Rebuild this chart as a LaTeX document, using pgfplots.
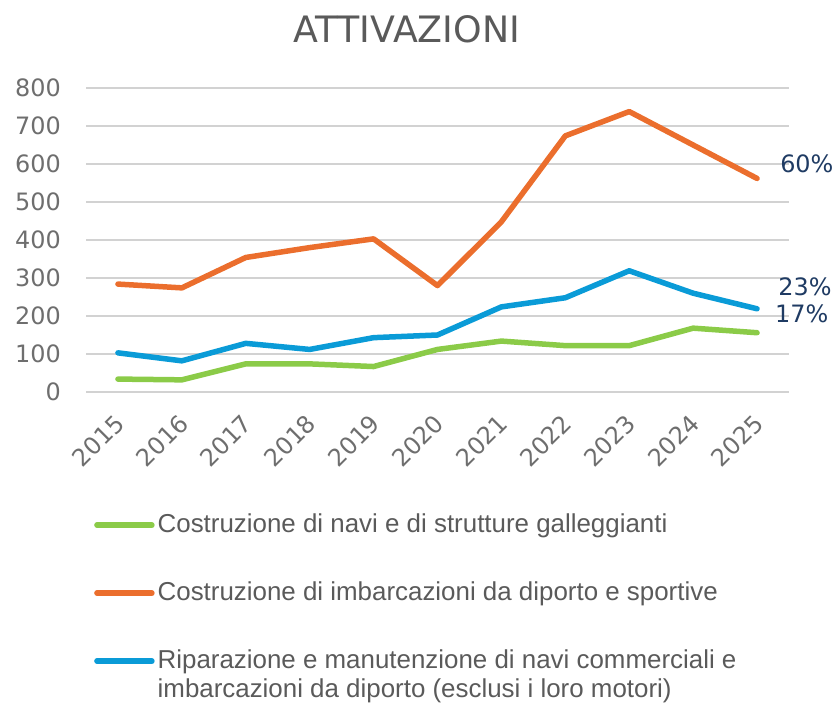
\documentclass[border=0pt]{standalone}
\usepackage{pgfplots}
\pgfplotsset{compat=1.18}
\usepackage{fontspec}
\setmainfont{Liberation Sans}
\newfontfamily\dejavu{DejaVu Sans}
\definecolor{cgreen}{HTML}{8BCB48}
\definecolor{corange}{HTML}{EB6E2D}
\definecolor{cblue}{HTML}{0A9BD7}
\definecolor{tickgray}{HTML}{6E6E6E}
\definecolor{titlegray}{HTML}{5A5A5A}
\definecolor{navy}{HTML}{1F3B63}
\definecolor{gridgray}{HTML}{D2D2D2}
\begin{document}
\begin{tikzpicture}
\path[use as bounding box] (0,0) rectangle (837bp,703bp);
\node[font=\dejavu\fontsize{36.5}{40}\selectfont, text=titlegray, anchor=center] at (407bp,674bp) {ATTIVAZIONI};
\begin{axis}[
  at={(86bp,311bp)}, anchor=south west,
  scale only axis, width=703bp, height=304bp,
  xmin=2014.5, xmax=2025.5, ymin=0, ymax=800,
  axis line style={draw=none},
  major tick length=0pt,
  ytick={0,100,...,800},
  xtick={2015,...,2025},
  ymajorgrids, grid style={gridgray, line width=1.5bp},
  /pgf/number format/assume math mode=true,
  /pgf/number format/1000 sep={},
  ticklabel style={font=\dejavu\fontsize{24}{28}\selectfont, text=tickgray},
  yticklabel style={anchor=east, inner sep=0pt, xshift=-25bp},
  xticklabel style={xshift=2bp, yshift=-27bp, rotate=45, anchor=east, inner sep=0pt},
  clip=false,
  legend cell align=left,
  legend image code/.code={\draw[#1, line cap=round] (0bp,0bp) -- (55bp,0bp);},
  legend style={at={(0,0)}, anchor=north west, xshift=5bp, yshift=-118bp,
    draw=none, fill=none, font=\fontsize{26}{29}\selectfont, text=titlegray,
    row sep=42bp, column sep=3bp,
    nodes={inner sep=0pt, text height=20bp, text depth=6bp}},
  every axis plot/.append style={line width=5.5bp, line join=round, line cap=round},
]
\addplot[cgreen] coordinates {(2015,34)(2016,32)(2017,74)(2018,74)(2019,67)(2020,112)(2021,134)(2022,122)(2023,122)(2024,168)(2025,156)};
\addlegendentry{Costruzione di navi e di strutture galleggianti}
\addplot[corange] coordinates {(2015,284)(2016,274)(2017,354)(2018,380)(2019,403)(2020,280)(2021,448)(2022,674)(2023,738)(2024,650)(2025,562)};
\addlegendentry{Costruzione di imbarcazioni da diporto e sportive}
\addplot[cblue] coordinates {(2015,103)(2016,82)(2017,128)(2018,112)(2019,143)(2020,150)(2021,224)(2022,248)(2023,319)(2024,260)(2025,219)};
\addlegendentry{\begin{tabular}[t]{@{}l@{}}Riparazione e manutenzione di navi commerciali e\\imbarcazioni da diporto (esclusi i loro motori)\end{tabular}}
\node[anchor=west, font=\dejavu\fontsize{24}{28}\selectfont, text=navy, inner sep=0pt] at (axis cs:2025.36,600) {60\%};
\node[anchor=west, font=\dejavu\fontsize{24}{28}\selectfont, text=navy, inner sep=0pt] at (axis cs:2025.33,276) {23\%};
\node[anchor=west, font=\dejavu\fontsize{24}{28}\selectfont, text=navy, inner sep=0pt] at (axis cs:2025.28,205) {17\%};
\end{axis}
\end{tikzpicture}
\end{document}
